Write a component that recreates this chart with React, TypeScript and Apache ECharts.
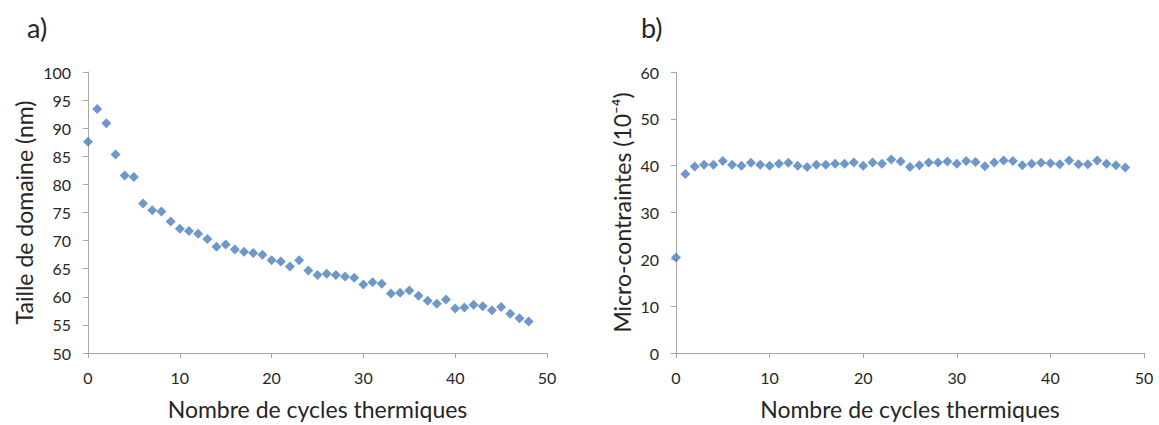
import React, { useEffect, useRef } from "react";
import * as echarts from "echarts";

const cycles: number[] = Array.from({ length: 49 }, (_, i) => i);

const tailleDomaine: number[] = [
  87.6, 93.4, 90.9, 85.3, 81.6, 81.3, 76.6, 75.4, 75.2, 73.4,
  72.1, 71.7, 71.2, 70.3, 68.9, 69.3, 68.4, 68.0, 67.8, 67.5,
  66.5, 66.3, 65.4, 66.5, 64.7, 63.9, 64.1, 63.9, 63.6, 63.4,
  62.2, 62.6, 62.3, 60.6, 60.7, 61.1, 60.2, 59.3, 58.75, 59.5,
  57.9, 58.1, 58.6, 58.3, 57.6, 58.2, 57.0, 56.2, 55.6,
];

const microContraintes: number[] = [
  20.4, 38.2, 39.8, 40.2, 40.2, 41.0, 40.2, 40.0, 40.6, 40.2,
  40.0, 40.4, 40.6, 40.0, 39.7, 40.2, 40.2, 40.4, 40.4, 40.7,
  40.0, 40.7, 40.4, 41.3, 40.9, 39.7, 40.1, 40.7, 40.7, 40.9,
  40.4, 41.0, 40.8, 39.9, 40.7, 41.1, 41.0, 40.1, 40.4, 40.6,
  40.5, 40.3, 41.1, 40.3, 40.3, 41.1, 40.4, 40.1, 39.6,
];

const panelLabels = ["a)", "b)"];
const xTitle = "Nombre de cycles thermiques";
const yTitles = ["Taille de domaine (nm)", "Micro-contraintes (10⁻⁴)"];

const FONT = "Lato, 'Open Sans', sans-serif";
const AXIS_COLOR = "#a6a6a6";
const TEXT_COLOR = "#262626";
const MARK_COLOR = "#4a7ebb";

export default function App() {
  const ref = useRef<HTMLDivElement>(null);
  useEffect(() => {
    if (!ref.current) return;
    const chart = echarts.init(ref.current, undefined, { renderer: "svg" });
    const axisCommon = {
      axisLine: { show: true, lineStyle: { color: AXIS_COLOR, width: 1 } },
      axisTick: { show: true, inside: false, length: 5, lineStyle: { color: AXIS_COLOR } },
      splitLine: { show: false },
      axisLabel: { color: TEXT_COLOR, fontSize: 16, fontFamily: FONT },
      nameTextStyle: { color: TEXT_COLOR, fontSize: 23, fontFamily: FONT },
    };
    const titleStyle = { fontSize: 27, fontWeight: "normal", color: TEXT_COLOR, fontFamily: FONT };
    chart.setOption({
      animation: false,
      backgroundColor: "#ffffff",
      textStyle: { fontFamily: FONT },
      title: [
        { text: panelLabels[0], left: 22, top: 9, textStyle: titleStyle },
        { text: panelLabels[1], left: 636, top: 9, textStyle: titleStyle },
      ],
      grid: [
        { left: 88, top: 72, width: 459, height: 284 },
        { left: 676, top: 72, width: 468, height: 284 },
      ],
      xAxis: [0, 1].map((i) => ({
        ...axisCommon,
        type: "value",
        gridIndex: i,
        min: 0,
        max: 50,
        interval: 10,
        name: xTitle,
        nameLocation: "middle",
        nameGap: 44,
        axisLabel: { ...axisCommon.axisLabel, margin: 16 },
      })),
      yAxis: [
        {
          ...axisCommon,
          type: "value",
          gridIndex: 0,
          min: 50,
          max: 100,
          interval: 5,
          name: yTitles[0],
          nameLocation: "middle",
          nameGap: 53,
          axisLabel: { ...axisCommon.axisLabel, margin: 17 },
        },
        {
          ...axisCommon,
          type: "value",
          gridIndex: 1,
          min: 0,
          max: 60,
          interval: 10,
          name: yTitles[1],
          nameLocation: "middle",
          nameGap: 43,
          axisLabel: { ...axisCommon.axisLabel, margin: 17 },
        },
      ],
      series: [
        {
          type: "scatter",
          xAxisIndex: 0,
          yAxisIndex: 0,
          symbol: "diamond",
          symbolSize: 10,
          itemStyle: { color: MARK_COLOR },
          data: cycles.map((c, i) => [c, tailleDomaine[i]]),
        },
        {
          type: "scatter",
          xAxisIndex: 1,
          yAxisIndex: 1,
          symbol: "diamond",
          symbolSize: 10,
          itemStyle: { color: MARK_COLOR },
          data: cycles.map((c, i) => [c, microContraintes[i]]),
        },
      ],
    });
    return () => chart.dispose();
  }, []);
  return (
    <div
      ref={ref}
      style={{ position: "absolute", left: 0, top: 0, width: 1159, height: 425 }}
    />
  );
}
